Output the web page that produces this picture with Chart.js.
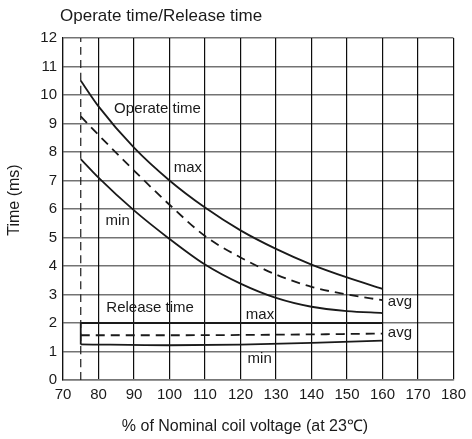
<!DOCTYPE html>
<html>
<head>
<meta charset="utf-8">
<script src="https://cdn.jsdelivr.net/npm/chart.js@4.4.1/dist/chart.umd.min.js"></script>
<style>
  html, body { margin: 0; padding: 0; background: #fff; }
  #wrap { width: 472px; height: 439px; }
</style>
</head>
<body>
<div id="wrap"><canvas id="myChart"></canvas></div>
<script>
// coil voltage (% of nominal) where the operate curves were read
const voltage = [75, 80, 90, 100, 110, 120, 130, 140, 150, 160];
const operateMax = [10.5, 9.6, 8.15, 7.0, 6.05, 5.25, 4.6, 4.05, 3.6, 3.2];
const operateAvg = [9.25, 8.6, 7.35, 6.15, 5.05, 4.3, 3.7, 3.27, 3.0, 2.8];
const operateMin = [7.75, 7.1, 5.95, 4.95, 4.05, 3.38, 2.88, 2.57, 2.42, 2.35];

const voltageRel = [75, 100, 120, 140, 160];
const releaseMax = [2.0, 2.0, 2.0, 2.0, 2.0];
const releaseAvg = [1.57, 1.57, 1.58, 1.6, 1.63];
const releaseMin = [1.25, 1.22, 1.24, 1.3, 1.38];

// minimum operate voltage marker
const markX = [75, 75];
const markY = [0, 12];

const FONT = "'Liberation Sans', Arial, sans-serif";
const INK = '#1a1a1a';

function pts(xs, ys) {
  return xs.map((x, i) => ({ x: x, y: ys[i] }));
}

function curve(xs, ys, dash) {
  return {
    data: pts(xs, ys),
    borderColor: INK,
    borderWidth: 1.8,
    borderDash: dash || [],
    pointRadius: 0,
    fill: false,
    cubicInterpolationMode: 'monotone'
  };
}

const bracket = curve([voltageRel[0], voltageRel[0]], [releaseMin[0], releaseMax[0]]);

const marker = curve(markX, markY, [8, 5]);
marker.borderWidth = 1.2;

// text labels drawn on the plot, placed in data units
const notes = [
  { t: 'Operate time', x: 84.4, y: 9.5 },
  { t: 'max', x: 101.2, y: 7.43 },
  { t: 'min', x: 82, y: 5.58 },
  { t: 'Release time', x: 82.2, y: 2.52 },
  { t: 'max', x: 121.5, y: 2.27 },
  { t: 'min', x: 122, y: 0.73 },
  { t: 'avg', x: 161.5, y: 2.73 },
  { t: 'avg', x: 161.5, y: 1.65 }
];

const textPlugin = {
  id: 'texts',
  afterDraw(chart) {
    const c = chart.ctx;
    const sx = chart.scales.x, sy = chart.scales.y;
    c.save();
    c.fillStyle = INK;
    c.textBaseline = 'middle';
    c.textAlign = 'left';
    c.font = '15px ' + FONT;
    notes.forEach(n => {
      c.fillText(n.t, sx.getPixelForValue(n.x), sy.getPixelForValue(n.y));
    });
    c.font = '17px ' + FONT;
    c.fillText('Operate time/Release time', 60, 16);
    c.font = '16px ' + FONT;
    c.textAlign = 'center';
    c.fillText('% of Nominal coil voltage (at 23\u2103)', 245, 427);
    c.translate(15, 200);
    c.rotate(-Math.PI / 2);
    c.fillText('Time (ms)', 0, 0);
    c.restore();
  }
};

const ctx = document.getElementById('myChart').getContext('2d');
const chart = new Chart(ctx, {
  type: 'line',
  data: {
    datasets: [
      marker,
      curve(voltage, operateMax),
      curve(voltage, operateAvg, [9, 6]),
      curve(voltage, operateMin),
      curve(voltageRel, releaseMax),
      curve(voltageRel, releaseAvg, [9, 6]),
      curve(voltageRel, releaseMin),
      bracket
    ]
  },
  options: {
    responsive: true,
    maintainAspectRatio: false,
    animation: false,
    layout: { padding: { top: 38, right: 14, bottom: 0, left: 0 } },
    plugins: {
      legend: { display: false },
      tooltip: { enabled: false }
    },
    scales: {
      x: {
        type: 'linear',
        min: 70,
        max: 180,
        afterFit: s => { s.height = 59; },
        grid: { color: 'rgba(0,0,0,0.95)', lineWidth: 1.2, drawTicks: false },
        border: { color: '#777', width: 1.5 },
        ticks: { stepSize: 10, color: INK, font: { family: FONT, size: 15 }, padding: 6, maxRotation: 0, autoSkip: false }
      },
      y: {
        type: 'linear',
        min: 0,
        max: 12,
        afterFit: s => { s.width = 63; },
        grid: { color: 'rgba(0,0,0,0.55)', lineWidth: 1.5, drawTicks: false },
        border: { color: '#111', width: 1.2 },
        ticks: { stepSize: 1, color: INK, font: { family: FONT, size: 15 }, padding: 6, autoSkip: false }
      }
    }
  },
  plugins: [textPlugin]
});
</script>
</body>
</html>
